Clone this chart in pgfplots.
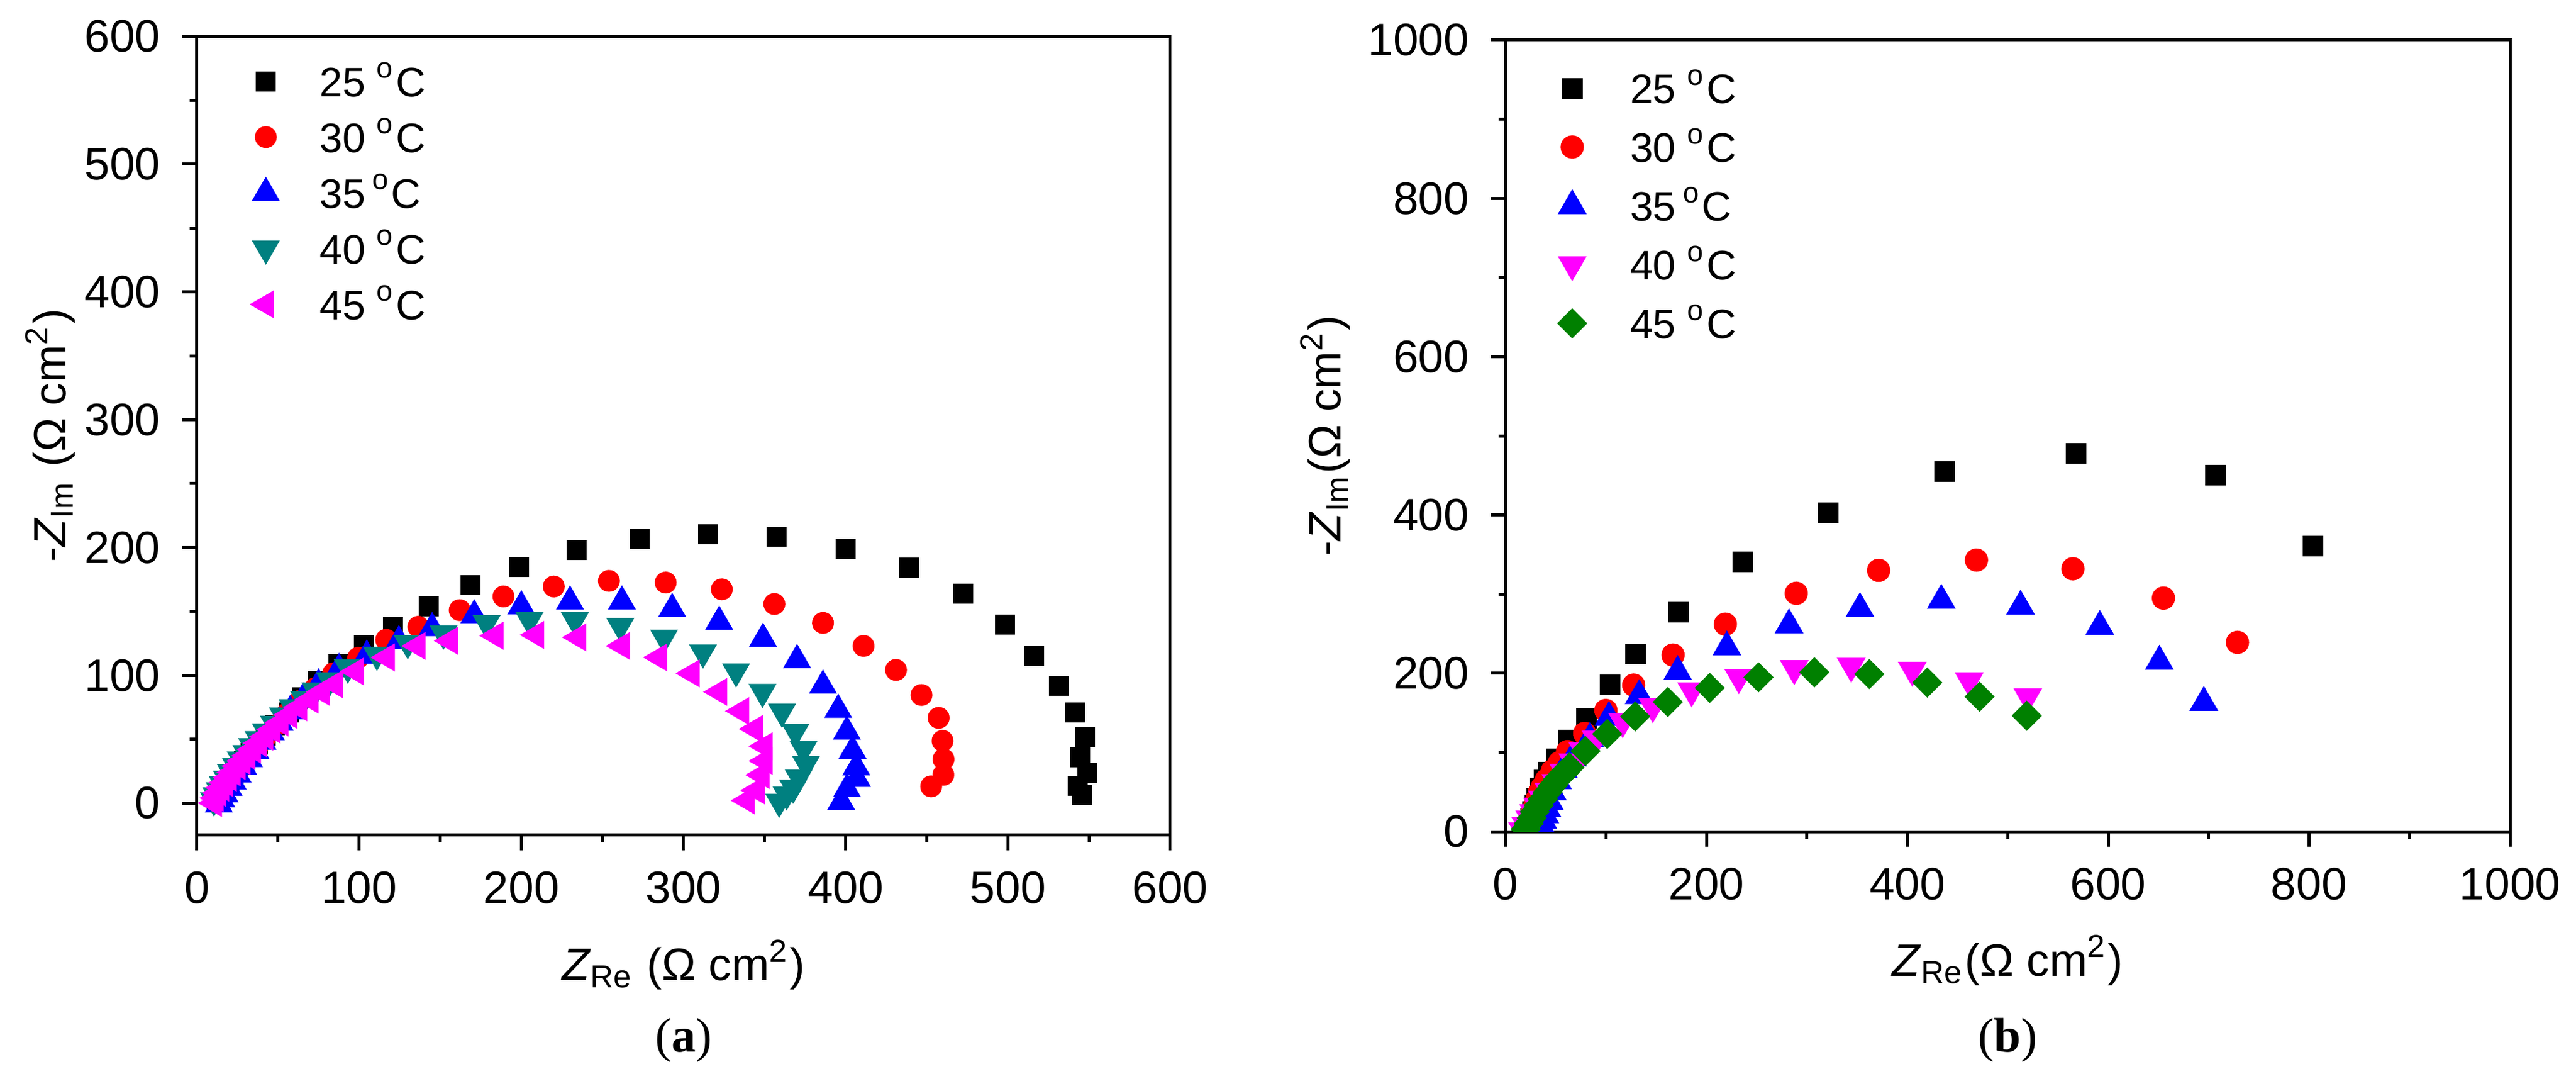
\documentclass[border=0pt]{standalone}
\usepackage{fontspec}
\setmainfont{Liberation Sans}
\newfontfamily\serifbody{Liberation Serif}
\usepackage{pgfplots}
\pgfplotsset{compat=1.18}
\definecolor{cteal}{RGB}{0,128,128}
\definecolor{cgreen}{RGB}{0,128,0}
\definecolor{cmag}{RGB}{255,0,255}
\definecolor{cred}{RGB}{255,0,0}
\definecolor{cblue}{RGB}{0,0,255}

% ---------- data, panel (a) ----------
\pgfplotstableread{
x y
12 1
13.5 4
15.5 8
17.5 12
20 17
22.5 22
25.5 27
29 33
33 39
37.5 46
42.5 53
48 61
56.7 71
64.8 83
74.7 95.5
87.3 109
102.8 123.5
120.8 138
142.8 154
168.6 170.7
198.7 185
234 198
273 206.8
315 210.5
357.5 208.5
400 199
439 184.5
472.4 164
498.3 139.8
516.3 115
531.6 92
541.6 71
547.5 51.7
544.5 35.6
549.1 23.6
543.1 13.4
545.6 6.6
}\aA
\pgfplotstableread{
x y
12.5 1
14.5 4.5
17 9
19.5 14
22.5 19.5
25.5 25
29 31
33 37.5
37.5 44.5
42.5 52
48.5 60.5
55.5 70
63.5 80
73 90
84 101.5
99.4 113.7
116.7 127.8
136.5 138
162 151
189 161.7
220 169.5
254 173.9
289 172.6
323.6 167.3
356 155.8
386 141
411 123
431 104.2
446.7 84.6
457.3 66.7
459.7 48.7
460.3 34.3
460.2 22.1
452.7 13.1
}\aB
\pgfplotstableread{
x y
13.5 -1
15 3
17 7
19.5 12
22 17
25 22.5
28.5 28.5
32 34.5
36 41
40.5 48
45.5 55.5
51 63
57.5 72
65.5 82
75 93
87.6 105
104.7 115.5
124.5 126.8
145 137
171 147
200 154
230 157.8
262 157.8
293 152
322 142
349 128.6
370 112
386 92
395.4 73
400.7 56
404.2 41
406.5 28
406.9 19
400.8 11
397.2 1
}\aC
\pgfplotstableread{
x y
10.5 2
12 6
14 10
16 14.5
18.5 19
21 24
24 29
27 34
30.5 39
34 44.5
38 50
42.5 56
47.5 62
53 68.5
59 75
66 81.5
73 88
82 96
93 106
111 116
130 125
152 132.6
178.6 140.7
205 143
233 143
261 138.5
288 129.4
312 117.8
332.4 103
348.7 87
360.7 71.4
369 55.8
374 42.4
375.5 30.6
371 20
367.6 12
363.5 6.7
359 1
}\aD
\pgfplotstableread{
x y
10.5 0
11.5 4
13 8
15 12
17 16
19.5 20
22 24
25 29
28 33
31 37
34.5 42
38 47
42 52
46.5 57.5
51.5 63
57 69
63 75
70 81
77 87
85 93
98 103
117 114
136 123
156 127
184 131
209 131.6
235 129.7
262 123
285 114
305 101.5
322 87
335.5 72
344 58
350 44.5
350 33
348 22
345 10
339 2
}\aE

% ---------- data, panel (b) ----------
\pgfplotstableread{
x y
21 2
23 9
25 17
27 25
29 34
31 42
34.4 55
38.4 65
42.5 75
50.5 92
62.6 116
80.7 143
103.8 185
129.5 224
172.4 277
236.3 341
321.4 403
436.9 455
567.8 478
706.6 450
804 361
}\bA
\pgfplotstableread{
x y
20 2
22 9
24 16
26.5 24
29 32
31 40
33.4 48.6
36.4 56
40.5 65
46.5 76.6
53.5 87
61.6 101
78.7 124
99.8 153
127.5 185
166.7 223
218.8 262
289.4 301
371.4 330
468.8 343
564.8 332
655 295
728.7 239
}\bB
\pgfplotstableread{
x y
33 2
35 8
37 14
39 21
41 29
43.5 38
46.5 50
51.6 64
57.6 78
66.6 93
83.8 117
102.9 144
133 171.6
171.3 202
220.3 233
282.2 261
352.8 281.5
433.8 292
512.7 284.5
591.6 259
650.9 215
695.2 163
}\bC
\pgfplotstableread{
x y
17 1
20 8
24 16
28 24
32 32
37 41
43 51
50 62
58 75
67 88
77 102
90 117
116.6 139
146.5 158
185.2 178
232.2 194.6
287.4 206
344.1 209
404.9 204
461.6 190.5
519.9 170.5
}\bD
\pgfplotstableread{
x y
20 3
23 10
26 17
29 25
33 33
37 41
42 50
47 58
52 66
58 74
63.5 81
79.5 101.7
101.2 123.3
129 145.5
161.5 163.7
203.3 181.5
251.8 194.9
307.4 201.2
362.1 199
419.9 188.2
471.9 170.4
518.9 146.3
}\bE

\pgfplotsset{
  myaxis/.style={
    scale only axis,
    axis line style={line width=0.5pt},
    every tick/.style={black, line width=0.5pt},
    tick align=outside, tick pos=left,
    major tick length=2.5pt, minor tick length=1.2pt,
    minor tick num=1,
    /pgf/number format/assume math mode=true,
    /pgf/number format/1000 sep={},
    tick label style={font=\fontsize{7.5}{9}\selectfont},
    label style={font=\fontsize{7.5}{9}\selectfont},
    clip marker paths=true,
    legend cell align=left,
    legend style={draw=none, fill=none, inner sep=0pt, anchor=north west,
      font=\fontsize{6.8}{8}\selectfont,
      nodes={inner sep=0pt, text height=5pt, text depth=0pt}},
    legend image code/.code={\draw[#1] plot coordinates {(0pt,0pt)};},
  }
}

\begin{document}
\begin{tikzpicture}
\path[use as bounding box] (0,0) rectangle (425.1pt,177.1pt);

\begin{axis}[myaxis,
  at={(32.5pt,39.33pt)}, anchor=south west,
  width=160.6pt, height=131.76pt,
  xmin=0, xmax=600, ymin=-25, ymax=600,
  xtick={0,100,...,600}, ytick={0,100,...,600},
  xlabel={\textit{Z}\textsubscript{Re} (Ω cm\textsuperscript{2})},
  ylabel={-\textit{Z}\textsubscript{Im} (Ω cm\textsuperscript{2})},
  xlabel style={at={(axis description cs:0.5,0)}, anchor=base, yshift=-24pt},
  ylabel style={at={(axis description cs:-0.1348,0.5)}, anchor=base},
  legend style={at={(axis description cs:0.0554,0.9643)}, row sep=4.2pt, column sep=6.9pt},
]
\addplot[only marks, mark=square*, mark size=1.45pt, black] table {\aA};
\addlegendentry{25 \textsuperscript{o}C}
\addplot[only marks, mark=*, mark size=1.6pt, cred] table {\aB};
\addlegendentry{30 \textsuperscript{o}C}
\addplot[only marks, mark=triangle*, mark size=2.27pt, cblue] table {\aC};
\addlegendentry{35\,\textsuperscript{o}C}
\addplot[only marks, mark=triangle*, mark size=2.27pt, mark options={rotate=180}, cteal] table {\aD};
\addlegendentry{40 \textsuperscript{o}C}
\addplot[only marks, mark=triangle*, mark size=2.27pt, mark options={rotate=90}, cmag] table {\aE};
\addlegendentry{45 \textsuperscript{o}C}
\end{axis}

\begin{axis}[myaxis,
  at={(248.46pt,39.9pt)}, anchor=south west,
  width=165.74pt, height=130.6pt,
  xmin=0, xmax=1000, ymin=0, ymax=1000,
  xtick={0,200,...,1000}, ytick={0,200,...,1000},
  xlabel={\textit{Z}\textsubscript{Re}(Ω cm\textsuperscript{2})},
  ylabel={-\textit{Z}\textsubscript{Im}(Ω cm\textsuperscript{2})},
  xlabel style={at={(axis description cs:0.5,0)}, anchor=base, yshift=-23.8pt},
  ylabel style={at={(axis description cs:-0.1639,0.5)}, anchor=base},
  legend style={at={(axis description cs:0.0518,0.9598)}, row sep=4.7pt, column sep=7.35pt},
]
\addplot[only marks, mark=square*, mark size=1.5pt, black] table {\bA};
\addlegendentry{25 \textsuperscript{o}C}
\addplot[only marks, mark=*, mark size=1.72pt, cred] table {\bB};
\addlegendentry{30 \textsuperscript{o}C}
\addplot[only marks, mark=triangle*, mark size=2.35pt, cblue] table {\bC};
\addlegendentry{35\,\textsuperscript{o}C}
\addplot[only marks, mark=triangle*, mark size=2.35pt, mark options={rotate=180}, cmag] table {\bD};
\addlegendentry{40 \textsuperscript{o}C}
\addplot[only marks, mark=square*, mark size=1.56pt, mark options={rotate=45}, cgreen] table {\bE};
\addlegendentry{45 \textsuperscript{o}C}
\end{axis}

\node[anchor=base, font=\serifbody\fontsize{8}{9}\selectfont] at (112.8pt,3.6pt) {(\textbf{a})};
\node[anchor=base, font=\serifbody\fontsize{8}{9}\selectfont] at (331.3pt,3.6pt) {(\textbf{b})};
\end{tikzpicture}
\end{document}
